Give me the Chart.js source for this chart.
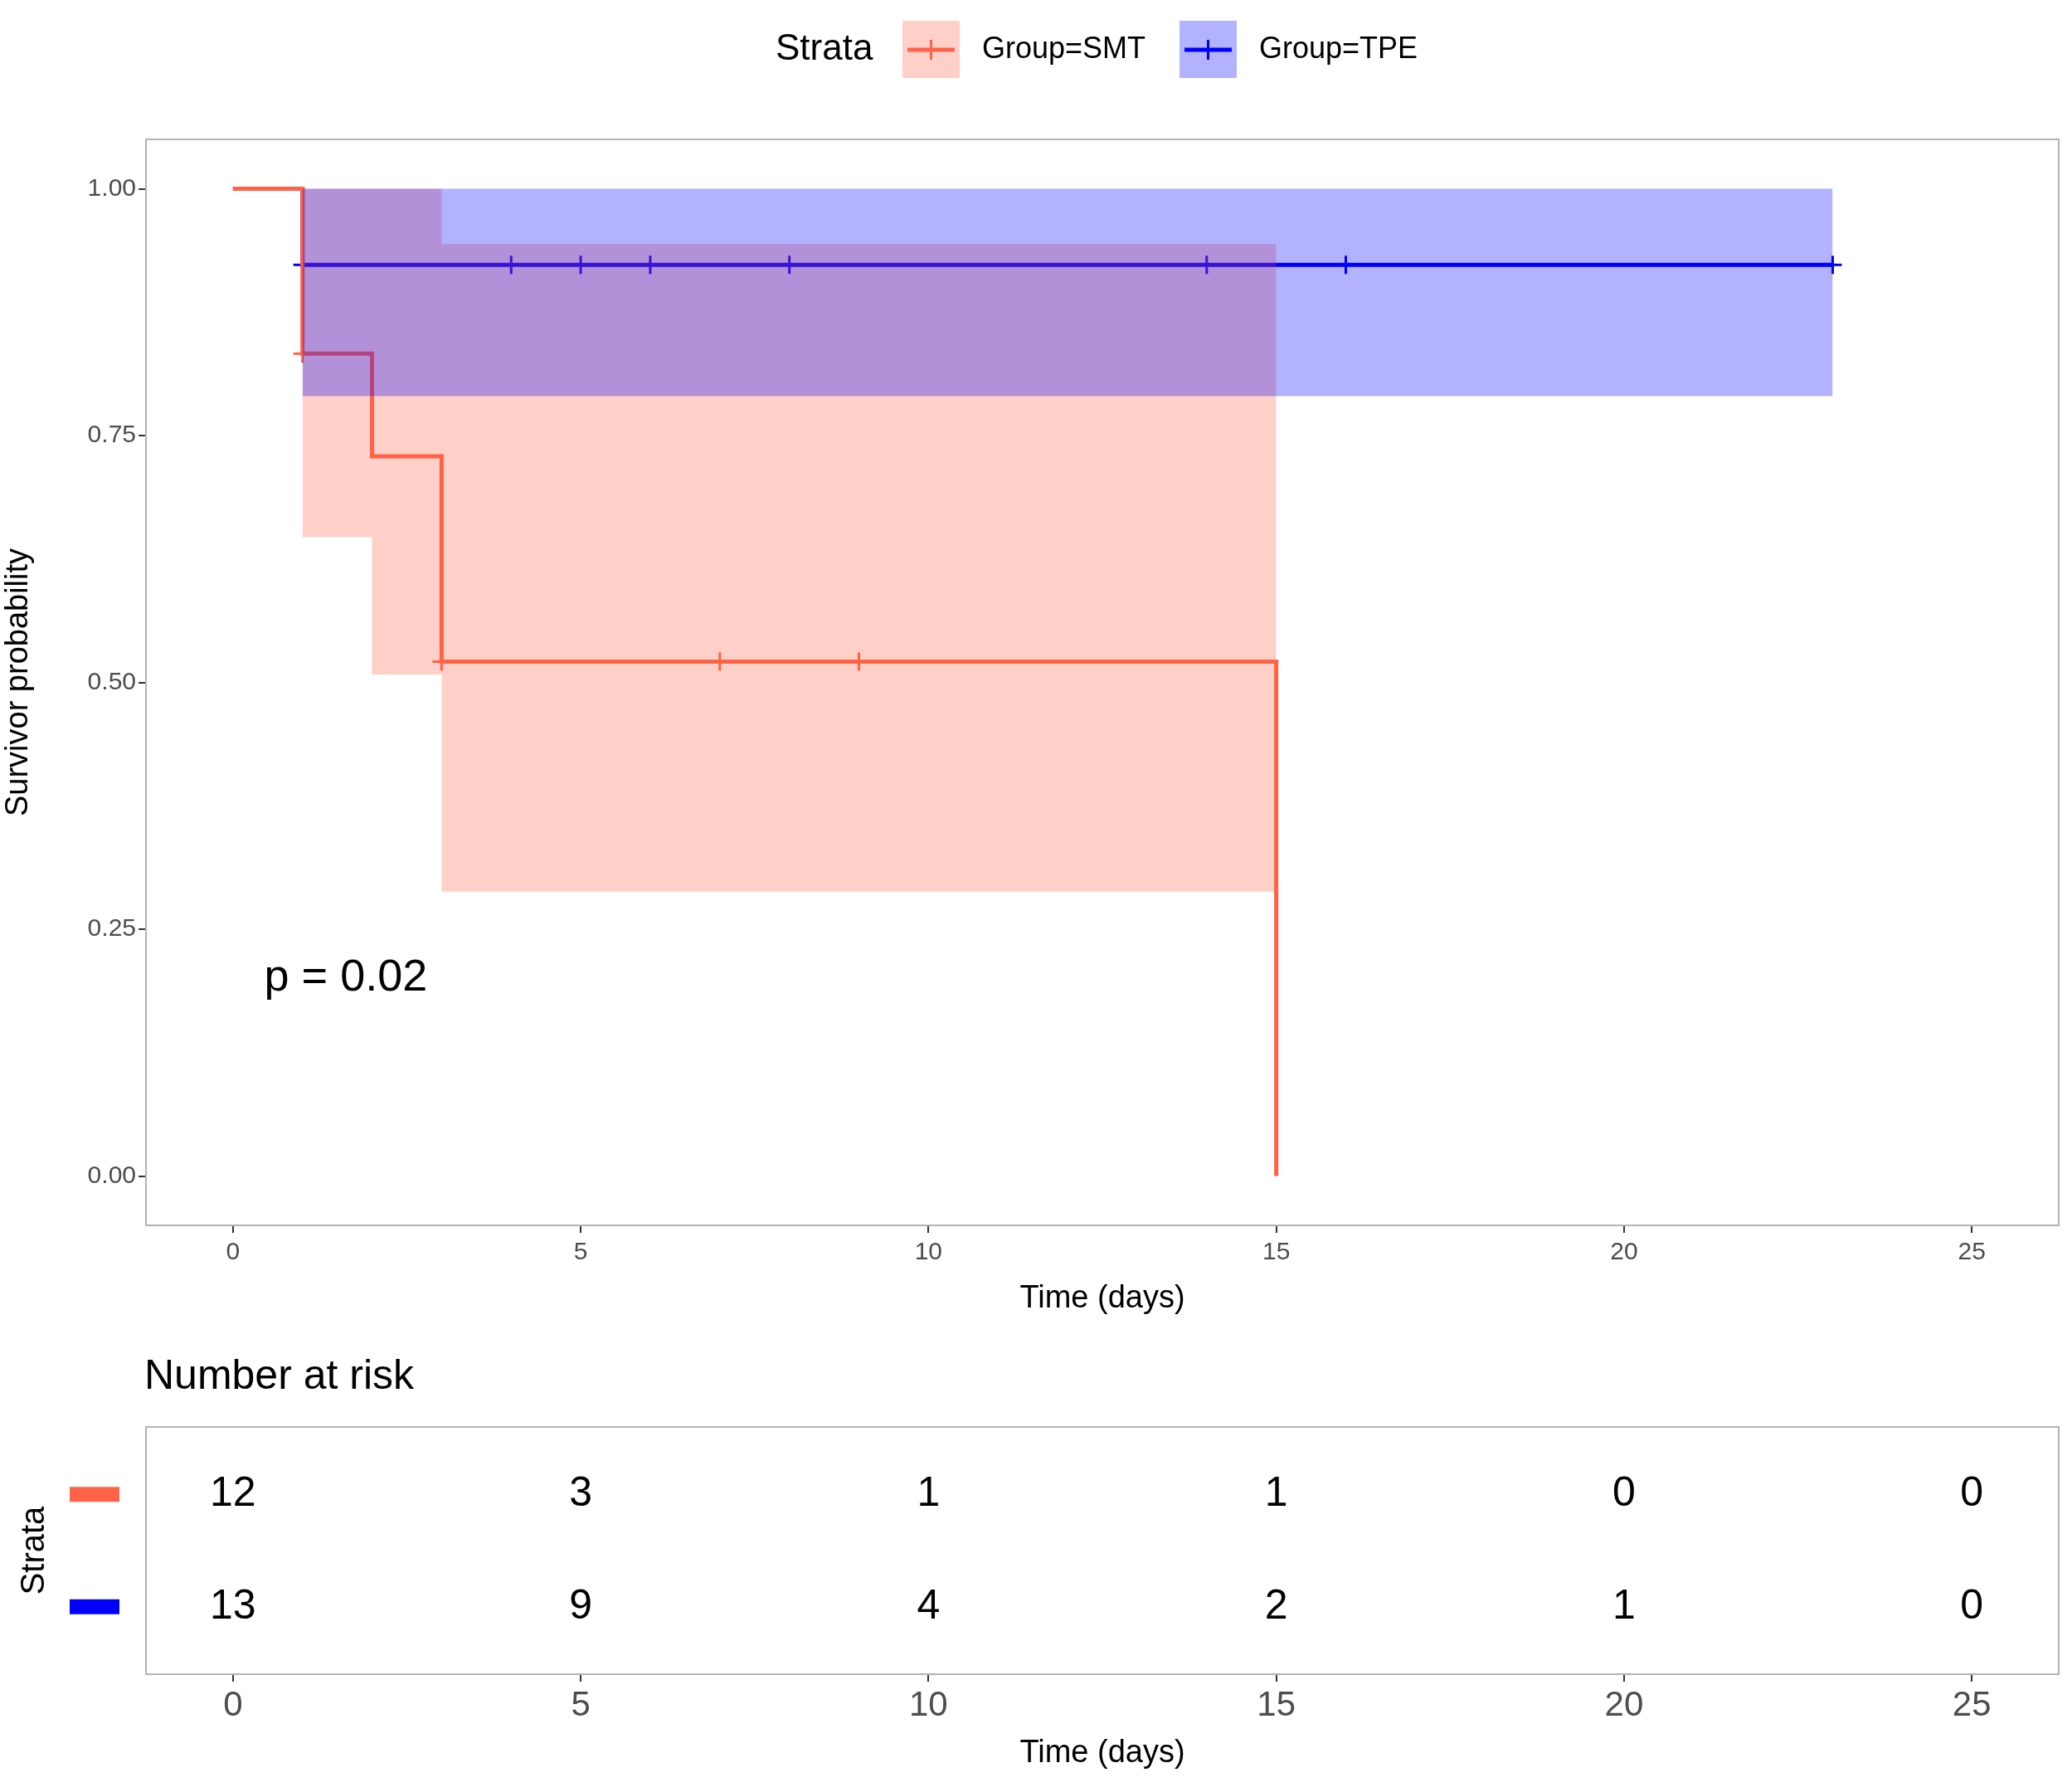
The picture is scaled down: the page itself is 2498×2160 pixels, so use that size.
<!DOCTYPE html>
<html>
<head>
<meta charset="utf-8">
<script src="https://cdn.jsdelivr.net/npm/chart.js@4/dist/chart.umd.min.js"></script>
<style>
  body { margin: 0; background: #fff; }
  #wrap { position: relative; width: 2498px; height: 2160px; }
  #wrap div { position: absolute; left: 0; width: 2498px; }
</style>
</head>
<body>
<div id="wrap">
  <div style="top:0;height:1620px"><canvas id="kmChart"></canvas></div>
  <div style="top:1620px;height:540px"><canvas id="riskChart"></canvas></div>
</div>
<script>
// Kaplan-Meier curves (value holds until next time point)
const smtTimes = [0, 1, 2, 3, 15, 15];
const smtSurv  = [1, 0.833, 0.729, 0.521, 0.521, 0];
const smtCiTimes = [1, 2, 3, 15];
const smtUpper = [1, 1, 0.944, 0.944];
const smtLower = [0.647, 0.508, 0.288, 0.288];
const smtCensorT = [1, 3, 7, 9];
const smtCensorS = [0.833, 0.521, 0.521, 0.521];

const tpeTimes = [0, 1, 23];
const tpeSurv  = [1, 0.923, 0.923];
const tpeCiTimes = [1, 23];
const tpeUpper = [1, 1];
const tpeLower = [0.79, 0.79];
const tpeCensorT = [1, 4, 5, 6, 8, 14, 16, 23];
const tpeCensorS = [0.923, 0.923, 0.923, 0.923, 0.923, 0.923, 0.923, 0.923];

const xTicks = [0, 5, 10, 15, 20, 25];
const yTicks = [0, 0.25, 0.5, 0.75, 1];
const riskSMT = [12, 3, 1, 1, 0, 0];
const riskTPE = [13, 9, 4, 2, 1, 0];
const pValueText = 'p = 0.02';

const RED = '#FF6347', BLUE = '#0000FF';
const RED_FILL = 'rgba(255,99,71,0.3)', BLUE_FILL = 'rgba(0,0,255,0.3)';
const FONT = '"Liberation Sans", Arial, sans-serif';
const GRAY = '#4D4D4D';
const STEP = 'before';

const pts = (xs, ys) => xs.map((x, i) => ({ x: x, y: ys[i] }));

const panelBorder = {
    id: 'panelBorder',
    afterDraw(chart) {
        const a = chart.chartArea, c = chart.ctx;
        c.save();
        c.strokeStyle = '#B3B3B3';
        c.lineWidth = 2;
        c.strokeRect(a.left, a.top, a.right - a.left, a.bottom - a.top);
        c.restore();
    }
};

function xScale() {
    return {
        type: 'linear', min: -1.25, max: 26.25,
        afterBuildTicks: s => { s.ticks = xTicks.map(v => ({ value: v })); },
        grid: { drawOnChartArea: false, tickLength: 9, color: '#333', lineWidth: 2 },
        border: { display: false },
        title: { display: true, text: 'Time (days)', font: { family: FONT, size: 38 }, color: '#000', padding: 0 }
    };
}

// main chart
new Chart(document.getElementById('kmChart'), {
    type: 'line',
    data: {
        datasets: [
            { data: pts(tpeCiTimes, tpeLower), stepped: STEP, borderWidth: 0, pointRadius: 0, fill: false },
            { data: pts(tpeCiTimes, tpeUpper), stepped: STEP, borderWidth: 0, pointRadius: 0, fill: '-1', backgroundColor: BLUE_FILL },
            { data: pts(smtCiTimes, smtLower), stepped: STEP, borderWidth: 0, pointRadius: 0, fill: false },
            { data: pts(smtCiTimes, smtUpper), stepped: STEP, borderWidth: 0, pointRadius: 0, fill: '-1', backgroundColor: RED_FILL },
            { data: pts(smtTimes, smtSurv), stepped: STEP, borderColor: RED, borderWidth: 5, pointRadius: 0, fill: false },
            { data: pts(tpeTimes, tpeSurv), stepped: STEP, borderColor: BLUE, borderWidth: 5, pointRadius: 0, fill: false },
            { type: 'scatter', data: pts(smtCensorT, smtCensorS), pointStyle: 'cross', pointRadius: 11, borderColor: RED, borderWidth: 3 },
            { type: 'scatter', data: pts(tpeCensorT, tpeCensorS), pointStyle: 'cross', pointRadius: 11, borderColor: BLUE, borderWidth: 3 }
        ]
    },
    options: {
        responsive: true, maintainAspectRatio: false, animation: false,
        layout: { padding: { top: 168, right: 16, left: 0, bottom: 32 } },
        plugins: { legend: { display: false }, tooltip: { enabled: false } },
        scales: {
            x: Object.assign(xScale(), {
                afterFit: s => { s.height = 111; },
                ticks: { font: { family: FONT, size: 30 }, color: GRAY, padding: 6 }
            }),
            y: {
                min: -0.05, max: 1.05,
                afterBuildTicks: s => { s.ticks = yTicks.map(v => ({ value: v })); },
                afterFit: s => { s.width = 176; },
                ticks: { font: { family: FONT, size: 30 }, color: GRAY, callback: v => v.toFixed(2) },
                grid: { drawOnChartArea: false, tickLength: 9, color: '#333', lineWidth: 2 },
                border: { display: false },
                title: { display: true, text: 'Survivor probability', font: { family: FONT, size: 38 }, color: '#000', padding: { top: 0, bottom: 0 } }
            }
        }
    },
    plugins: [panelBorder, {
        id: 'extras',
        afterDraw(chart) {
            const c = chart.ctx, xs = chart.scales.x, ys = chart.scales.y;
            c.save();
            c.fillStyle = '#000';
            c.font = '54px ' + FONT;
            c.textBaseline = 'middle';
            c.fillText(pValueText, xs.getPixelForValue(0.45), ys.getPixelForValue(0.2));
            // legend
            c.font = '44px ' + FONT;
            c.fillText('Strata', 935, 60);
            const keys = [[1088, RED_FILL, RED, 'Group=SMT'], [1422, BLUE_FILL, BLUE, 'Group=TPE']];
            c.font = '36px ' + FONT;
            keys.forEach(k => {
                c.fillStyle = k[1];
                c.fillRect(k[0], 25, 69, 69);
                c.strokeStyle = k[2];
                c.lineWidth = 5;
                c.beginPath(); c.moveTo(k[0] + 6, 60); c.lineTo(k[0] + 63, 60); c.stroke();
                c.lineWidth = 3;
                c.beginPath(); c.moveTo(k[0] + 34.5, 48); c.lineTo(k[0] + 34.5, 72); c.stroke();
                c.fillStyle = '#000';
                c.fillText(k[3], k[0] + 96, 60);
            });
            c.restore();
        }
    }]
});

// risk table
new Chart(document.getElementById('riskChart'), {
    type: 'scatter',
    data: { datasets: [{ data: [], pointRadius: 0 }] },
    options: {
        responsive: true, maintainAspectRatio: false, animation: false,
        layout: { padding: { top: 100, right: 16, left: 0, bottom: 24 } },
        plugins: { legend: { display: false }, tooltip: { enabled: false } },
        scales: {
            x: Object.assign(xScale(), {
                afterFit: s => { s.height = 118; },
                ticks: { font: { family: FONT, size: 42 }, color: GRAY, padding: 4 }
            }),
            y: {
                min: 0.4, max: 2.6,
                afterFit: s => { s.width = 176; },
                ticks: { display: false },
                grid: { display: false },
                border: { display: false }
            }
        }
    },
    plugins: [panelBorder, {
        id: 'riskText',
        afterDraw(chart) {
            const c = chart.ctx, xs = chart.scales.x, ys = chart.scales.y;
            c.save();
            c.fillStyle = '#000';
            c.font = '50px ' + FONT;
            c.textBaseline = 'middle';
            c.fillText('Number at risk', 174, 40);
            c.textAlign = 'center';
            c.font = '50px ' + FONT;
            xTicks.forEach((t, i) => {
                c.fillText(riskSMT[i], xs.getPixelForValue(t), ys.getPixelForValue(2));
                c.fillText(riskTPE[i], xs.getPixelForValue(t), ys.getPixelForValue(1));
            });
            c.fillStyle = RED;
            c.fillRect(84, ys.getPixelForValue(2) - 9, 60, 18);
            c.fillStyle = BLUE;
            c.fillRect(84, ys.getPixelForValue(1) - 9, 60, 18);
            c.fillStyle = '#000';
            c.font = '40px ' + FONT;
            c.translate(42, (ys.getPixelForValue(1) + ys.getPixelForValue(2)) / 2);
            c.rotate(-Math.PI / 2);
            c.fillText('Strata', 0, 0);
            c.restore();
        }
    }]
});
</script>
</body>
</html>
